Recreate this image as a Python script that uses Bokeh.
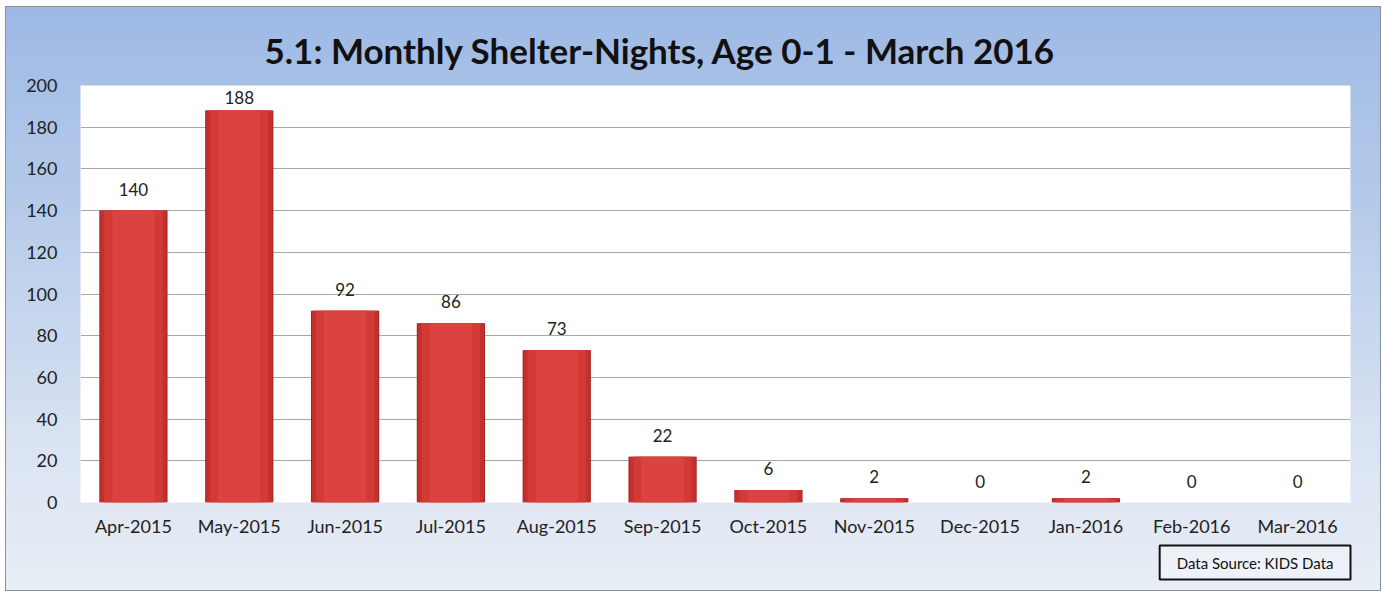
from bokeh.plotting import figure
from bokeh.models import ColumnDataSource, Range1d, FactorRange, Title, SingleIntervalTicker, LabelSet
from bokeh.core.properties import value
from bokeh.embed import file_html
from bokeh.resources import INLINE

months = ["Apr-2015", "May-2015", "Jun-2015", "Jul-2015", "Aug-2015", "Sep-2015",
          "Oct-2015", "Nov-2015", "Dec-2015", "Jan-2016", "Feb-2016", "Mar-2016"]
nights = [140, 188, 92, 86, 73, 22, 6, 2, 0, 2, 0, 0]
title_text = "5.1: Monthly Shelter-Nights, Age 0-1 - March 2016"
source_text = "Data Source: KIDS Data"

FONT = "Lato"
Y_MAX = 200
FRAME_H = 417  # pixels of the plotting area
px_per_unit = FRAME_H / Y_MAX
# keep labels inside the plot area, like the original does for the tallest bar
offsets = [min(15, (Y_MAX - v) * px_per_unit - 18) for v in nights]

src = ColumnDataSource(dict(month=months, nights=nights, label=[str(v) for v in nights],
                            off=offsets))

p = figure(width=1376, height=585, x_range=FactorRange(*months, range_padding=0),
           y_range=Range1d(0, Y_MAX), output_backend="svg", toolbar_location=None,
           min_border_left=74, min_border_right=32, min_border_top=78, min_border_bottom=90)
p.margin = (6, 0, 0, 5)
p.border_fill_color = None
p.background_fill_color = "white"
p.outline_line_color = None
p.styles = {"background": "linear-gradient(180deg, #9DB9E4 0%, #B6CBEA 35%, #D9E3F2 75%, #E9EEF6 100%)",
            "border": "1px solid #8A8F99", "box-sizing": "border-box"}

p.title.text = title_text
p.title.align = "left"
p.title.offset = 184
p.title.text_font = FONT
p.title.text_font_size = "35px"
p.title.text_font_style = "bold"
p.title.text_color = "#111111"
p.title.standoff = 30

# layered bars give the shaded, bevelled look of the original
p.vbar(x="month", top="nights", width=0.645, source=src, fill_color="#A52724", line_color=None)
p.vbar(x="month", top="nights", width=0.625, source=src, fill_color="#C3302D", line_color=None)
p.vbar(x="month", top="nights", width=0.55, source=src, fill_color="#D23A36", line_color=None)
p.vbar(x="month", top="nights", width=0.40, source=src, fill_color="#DA433F", line_color=None)

labels = LabelSet(x="month", y="nights", text="label", source=src, text_align="center",
                  text_baseline="bottom", y_offset="off", text_font_size="17px",
                  text_font=value(FONT), text_color="#222222")
p.add_layout(labels)

p.yaxis.ticker = SingleIntervalTicker(interval=20)
p.ygrid.grid_line_color = "#A8A8A8"
p.ygrid.grid_line_width = 1
p.xgrid.grid_line_color = None
for ax in (p.xaxis[0], p.yaxis[0]):
    ax.axis_line_color = None
    ax.major_tick_line_color = None
    ax.minor_tick_line_color = None
    ax.major_label_text_font = FONT
    ax.major_label_text_font_size = "18px"
    ax.major_label_text_color = "#222222"
p.yaxis.major_label_standoff = 17
p.xaxis.major_label_standoff = 6

src_title = Title(text=source_text, align="right", text_font=FONT, text_font_size="15px",
                  text_font_style="normal", text_color="#111111",
                  border_line_color="#111111", border_line_width=2,
                  background_fill_color="white", background_fill_alpha=0.3,
                  padding=(17, 8), offset=0, standoff=8)
p.add_layout(src_title, "below")

open("out.html", "w").write(file_html(p, INLINE))
